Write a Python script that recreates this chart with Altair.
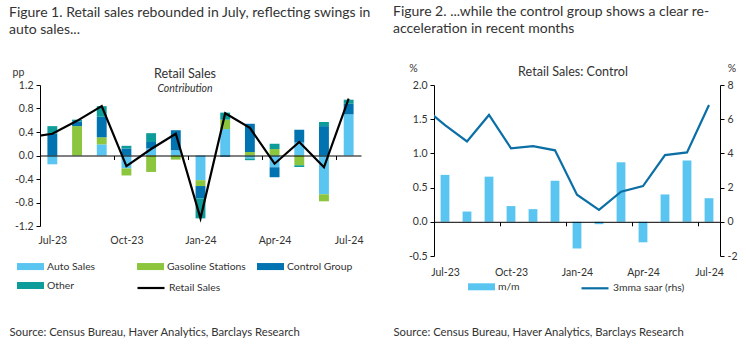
import altair as alt
import pandas as pd

months = ['Jul-23', 'Aug-23', 'Sep-23', 'Oct-23', 'Nov-23', 'Dec-23', 'Jan-24',
          'Feb-24', 'Mar-24', 'Apr-24', 'May-24', 'Jun-24', 'Jul-24']

# Figure 1: contributions (pp)
auto_sales = [-0.15, 0.0, 0.19, -0.22, 0.12, 0.09, -0.42, 0.45, -0.05, -0.20, 0.22, -0.66, 0.70]
gasoline = [0.0, 0.50, 0.12, -0.12, -0.28, -0.07, -0.10, 0.16, 0.06, 0.11, -0.165, -0.12, 0.0]
control_group = [0.375, 0.08, 0.35, 0.12, 0.11, 0.34, -0.21, -0.02, 0.48, -0.17, 0.22, 0.50, 0.18]
other = [0.125, 0.03, 0.18, 0.045, 0.15, 0.0, -0.34, 0.12, -0.03, 0.09, -0.03, 0.07, 0.07]
retail_prev = 0.31  # Jun-23, left of the axis (clipped)
retail_sales = [0.37, 0.59, 0.84, -0.18, 0.11, 0.37, -1.07, 0.72, 0.47, -0.14, 0.23, -0.20, 0.97]

# Figure 2: control group
mm = [0.686, 0.15, 0.66, 0.23, 0.185, 0.60, -0.39, -0.035, 0.87, -0.30, 0.40, 0.895, 0.345]
saar_prev = 6.73  # Jun-23, clipped
saar = [5.65, 4.70, 6.25, 4.30, 4.42, 4.18, 1.58, 0.70, 1.76, 2.09, 3.90, 4.06, 6.83]

components = ['Auto Sales', 'Gasoline Stations', 'Control Group', 'Other']
comp_colors = ['#5BC5F2', '#8CC63F', '#0073B0', '#0E9C9A']

FONT = 'Lato'
TXT = '#333333'
HALF = 0.2
AX_FS = 10.5
LEG_FS = 10.4
SRC_FS = 11.3
FIG_FS = 14
INNER_FS = 12.6

rows = []
for k, (name, vals) in enumerate(zip(components, [auto_sales, gasoline, control_group, other])):
    for i, v in enumerate(vals):
        rows.append({'idx': i, 'x0': i - HALF, 'x1': i + HALF, 'comp': name, 'k': k, 'value': v})
bars1_df = pd.DataFrame(rows)

line1_df = pd.DataFrame({'idx': list(range(-1, 13)),
                         'value': [retail_prev] + retail_sales,
                         'series': 'Retail Sales'})

bars2_df = pd.DataFrame({'idx': list(range(13)),
                         'x0': [i - HALF for i in range(13)],
                         'x1': [i + HALF for i in range(13)],
                         'value': mm, 'series': 'm/m'})
line2_df = pd.DataFrame({'idx': list(range(-1, 13)),
                         'value': [saar_prev] + saar,
                         'series': '3mma saar (rhs)'})

tick_vals = [-0.5, 2.5, 5.5, 8.5, 11.5]
label_expr = "[" + ",".join("'%s'" % months[i] for i in range(0, 13, 3)) + "][round((datum.value+0.5)/3)]"
comp_expr = "[" + ",".join("'%s'" % c for c in components) + "][datum.value]"
num_expr = "datum.value < 0 ? '-' + format(-datum.value, '%s') : format(datum.value, '%s')"

SOURCE = 'Source: Census Bureau, Haver Analytics, Barclays Research'
RECT = 'M-1,-0.26H1V0.26H-1Z'


def y_axis(values, fmt, title, tx, ty, orient='left'):
    return alt.Axis(orient=orient, values=values, labelExpr=num_expr % (fmt, fmt),
                    tickSize=4, domainColor='black', tickColor='black', grid=False,
                    labelPadding=3, labelColor=TXT, labelFontSize=AX_FS, labelFont=FONT,
                    title=title, titleAngle=0, titleX=tx, titleY=ty, titleAlign='center',
                    titleBaseline='middle', titleFontWeight='normal', titleFontSize=AX_FS,
                    titleColor=TXT, titleFont=FONT)


def x_axis(offset, pad, lab_off, tx, ty):
    return alt.Axis(values=tick_vals, labelExpr=label_expr, offset=offset, tickSize=4,
                    labelPadding=pad, labelOffset=lab_off, domainColor='black',
                    tickColor='black', domainWidth=1, labelColor=TXT, labelFontSize=AX_FS,
                    labelFont=FONT, grid=False, zindex=1, labelOverlap=False, labelFlush=False,
                    title=SOURCE, titleX=tx, titleY=ty, titleAlign='left',
                    titleBaseline='middle', titleFontWeight='normal', titleFontSize=SRC_FS,
                    titleColor=TXT, titleFont=FONT)


# ---------------- Figure 1 ----------------
W1, H1 = 321, 141
xs1 = alt.Scale(domain=[-0.5, 12.5], nice=False, zero=False)
ys1 = alt.Scale(domain=[-1.2, 1.2], nice=False)

x_axis1 = x_axis(-H1 / 2, 76, W1 / 26, -31, 176.5)
y_axis1 = y_axis([-1.2, -0.8, -0.4, 0, 0.4, 0.8, 1.2], '.1f', 'pp', -22, -13)

bars1 = alt.Chart(bars1_df).transform_stack(
    stack='value', groupby=['idx'], sort=[alt.SortField('k', order='ascending')],
    as_=['v0', 'v1'], offset='zero'
).mark_bar().encode(
    x=alt.X('x0:Q', scale=xs1, axis=x_axis1),
    x2='x1:Q',
    y=alt.Y('v0:Q', scale=ys1, axis=y_axis1),
    y2='v1:Q',
    color=alt.Color('k:O', scale=alt.Scale(domain=[0, 1, 2, 3], range=comp_colors),
                    legend=alt.Legend(orient='none', legendX=-23, legendY=168, columns=3,
                                      direction='horizontal', labelExpr=comp_expr,
                                      title=None, symbolType=RECT, symbolSize=729,
                                      symbolStrokeWidth=0, symbolOpacity=1, labelFont=FONT,
                                      labelFontSize=LEG_FS, labelColor=TXT, columnPadding=11,
                                      rowPadding=-7, gridAlign='all', labelOffset=3)),
)

line1 = alt.Chart(line1_df).mark_line(clip=True, strokeWidth=2.2).encode(
    x=alt.X('idx:Q', scale=xs1, axis=x_axis1),
    y=alt.Y('value:Q', scale=ys1, axis=y_axis1),
    stroke=alt.Stroke('series:N', scale=alt.Scale(domain=['Retail Sales'], range=['#000000']),
                      legend=alt.Legend(orient='none', legendX=96, legendY=188, title=None,
                                        symbolType='stroke', symbolSize=729, symbolStrokeWidth=2.2,
                                        labelFont=FONT, labelFontSize=LEG_FS, labelColor=TXT,
                                        labelOffset=3)),
)

plot1 = alt.layer(bars1, line1).properties(
    width=W1, height=H1,
    title=alt.TitleParams('Retail Sales', subtitle='Contribution', subtitleFontStyle='italic',
                          subtitleFontSize=10.5, subtitleColor=TXT, subtitleFont=FONT,
                          subtitlePadding=3, fontSize=INNER_FS, font=FONT, color=TXT,
                          fontWeight='normal', anchor='middle', frame='group', dx=-15.5,
                          offset=-27),
).resolve_scale(color='independent', stroke='independent')

panel1 = alt.vconcat(plot1, title=alt.TitleParams(
    ['Figure 1. Retail sales rebounded in July, reflecting swings in', 'auto sales...'],
    anchor='start', fontSize=FIG_FS, font=FONT, color='#333333', fontWeight='normal',
    lineHeight=17, offset=30)).resolve_scale(color='independent', stroke='independent')

# ---------------- Figure 2 ----------------
W2, H2 = 286, 171
xs2 = alt.Scale(domain=[-0.5, 12.5], nice=False, zero=False)
ysl = alt.Scale(domain=[-0.5, 2.0], nice=False)
ysr = alt.Scale(domain=[-2, 8], nice=False)

x_axis2 = x_axis(-H2 * 0.2, 41.3, W2 / 26, -41, 111)
y_axis2l = y_axis([-0.5, 0, 0.5, 1.0, 1.5, 2.0], '.1f', '%', -21, -17)
y_axis2r = y_axis([-2, 0, 2, 4, 6, 8], 'd', '%', 11.5, -17, orient='right')

bars2 = alt.Chart(bars2_df).transform_calculate(base='0').mark_bar().encode(
    x=alt.X('x0:Q', scale=xs2, axis=x_axis2),
    x2='x1:Q',
    y=alt.Y('value:Q', scale=ysl, axis=y_axis2l),
    y2='base:Q',
    color=alt.Color('series:N', scale=alt.Scale(domain=['m/m'], range=['#5BC5F2']),
                    legend=alt.Legend(orient='none', legendX=34, legendY=188.3, title=None,
                                      symbolType=RECT, symbolSize=729, symbolStrokeWidth=0,
                                      symbolOpacity=1, labelFont=FONT, labelFontSize=LEG_FS,
                                      labelColor=TXT, labelOffset=3)),
)
line2 = alt.Chart(line2_df).mark_line(clip=True, strokeWidth=2.2).encode(
    x=alt.X('idx:Q', scale=xs2, axis=x_axis2),
    y=alt.Y('value:Q', scale=ysr, axis=y_axis2r),
    stroke=alt.Stroke('series:N', scale=alt.Scale(domain=['3mma saar (rhs)'], range=['#0B6FA6']),
                      legend=alt.Legend(orient='none', legendX=146, legendY=188.3, title=None,
                                        symbolType='stroke', symbolSize=729, symbolStrokeWidth=2.2,
                                        labelFont=FONT, labelFontSize=LEG_FS, labelColor=TXT,
                                        labelOffset=3)),
)

plot2 = alt.layer(bars2, line2).resolve_scale(y='independent', color='independent',
                                               stroke='independent').properties(
    width=W2, height=H2,
    title=alt.TitleParams('Retail Sales: Control', fontSize=INNER_FS, font=FONT, color=TXT,
                          fontWeight='normal', anchor='middle', frame='group', dx=-4,
                          offset=-16),
)

panel2 = alt.vconcat(plot2, title=alt.TitleParams(
    ['Figure 2. ...while the control group shows a clear re-', 'acceleration in recent months'],
    anchor='start', fontSize=FIG_FS, font=FONT, color='#333333', fontWeight='normal',
    lineHeight=17, offset=27)).resolve_scale(color='independent', stroke='independent')

chart = alt.hconcat(panel1, panel2, spacing=22).resolve_scale(
    color='independent', stroke='independent'
).properties(
    padding={'left': 9, 'top': 5, 'right': 3, 'bottom': 2},
    background='white',
).configure_view(stroke=None)

chart.save('out.html', embed_options={'renderer': 'svg', 'actions': False})
